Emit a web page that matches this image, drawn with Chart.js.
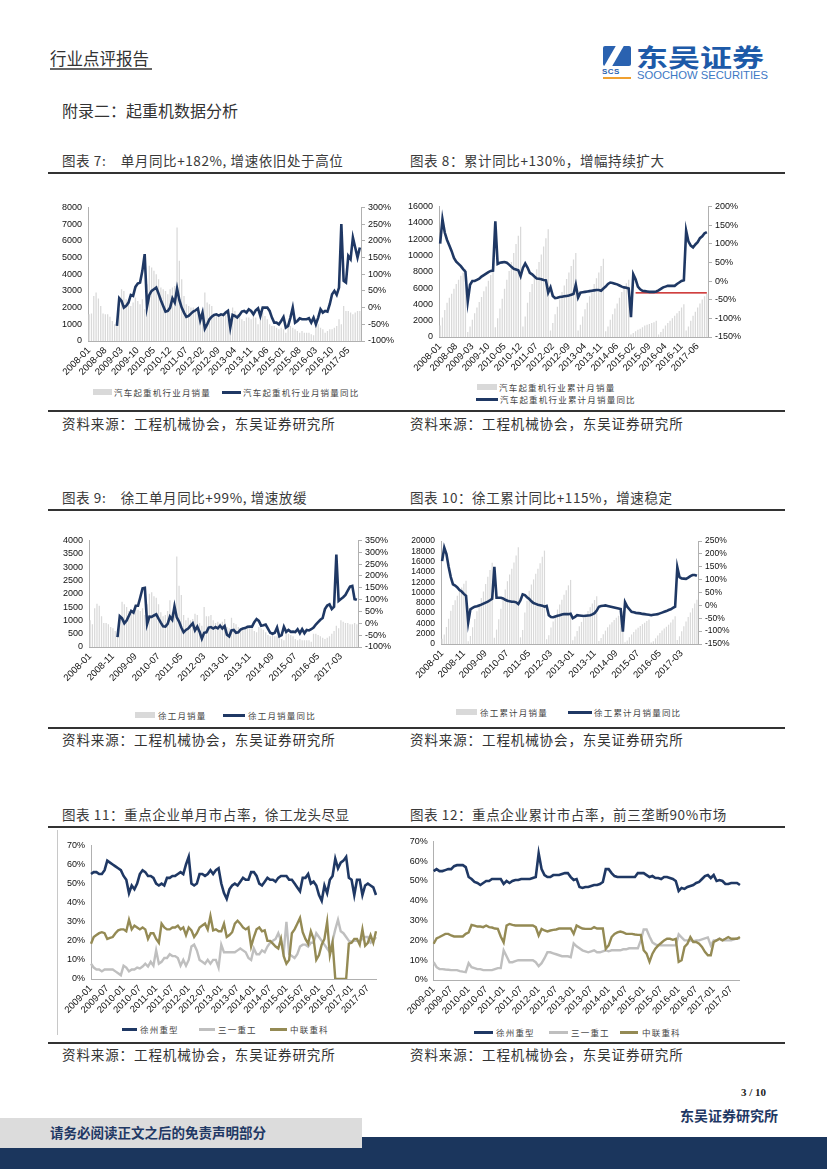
<!DOCTYPE html>
<html>
<head>
<meta charset="utf-8">
<script src="https://cdn.jsdelivr.net/npm/chart.js@4.4.1/dist/chart.umd.min.js"></script>
<style>
    body { margin: 0; width: 827px; height: 1169px; position: relative; overflow: hidden; background: #fff;
           font-family: "Noto Sans CJK SC", sans-serif; color: #333; }
    .a { position: absolute; white-space: nowrap; }
    .title { font-size: 13.5px; line-height: 16px; color: #3a3a3a; letter-spacing: 0.6px; }
    .rule { position: absolute; left: 48px; width: 737px; height: 2px; background: #333; }
    .src { font-size: 13.5px; line-height: 16px; color: #333; letter-spacing: 0.9px; }
    .lg { position: absolute; font-size: 8.5px; line-height: 10px; letter-spacing: 1.2px; color: #444; white-space: nowrap; }
    .sw { position: absolute; }
    canvas { position: absolute; }
</style>
</head>
<body>

<!-- header -->
<div class="a" style="left:50px;top:49px;font-size:16.5px;line-height:18px;color:#333;">行业点评报告</div>
<div class="a" style="left:50px;top:68px;width:102px;height:2px;background:#666;"></div>
<div class="a" style="left:603px;top:46px;width:28px;height:20px;background:#2a62b0;border-radius:2px;"></div>
<div class="a" style="left:610px;top:44px;width:8px;height:24px;background:#fff;transform:skewX(-30deg);"></div>
<div class="a" style="left:602px;top:67px;font:bold 8px/9px 'Liberation Sans',Arial;color:#2a62b0;letter-spacing:0.5px;">SCS</div>
<div class="a" style="left:603px;top:77px;width:28px;height:2px;background:#f0a030;"></div>
<div class="a" style="left:636px;top:42px;font-size:25px;line-height:28px;font-weight:bold;color:#1d5aa8;transform:scaleX(1.28);transform-origin:left top;">东吴证券</div>
<div class="a" style="left:637px;top:70px;font:10.5px/11px 'Liberation Sans',Arial;color:#3d78c4;transform:scaleX(1.07);transform-origin:left top;">SOOCHOW SECURITIES</div>

<div class="a" style="left:62px;top:101px;font-size:16px;line-height:18px;color:#333;">附录二：起重机数据分析</div>

<!-- row 1 -->
<div class="a title" style="left:62px;top:152px;">图表 7:&nbsp;&nbsp;&nbsp; 单月同比+182%, 增速依旧处于高位</div>
<div class="a title" style="left:410px;top:152px;">图表 8：累计同比+130%，增幅持续扩大</div>
<div class="rule" style="top:172px;"></div>
<canvas id="c7" width="345" height="183" style="left:50px;top:196px;"></canvas>
<canvas id="c8" width="343" height="180" style="left:405px;top:195px;"></canvas>
<div class="sw" style="left:93px;top:389px;width:19px;height:6px;background:#d9d9d9;"></div>
<div class="lg" style="left:114px;top:387px;">汽车起重机行业月销量</div>
<div class="sw" style="left:222px;top:391px;width:19px;height:3px;background:#1f3864;"></div>
<div class="lg" style="left:243px;top:387px;">汽车起重机行业月销量同比</div>
<div class="sw" style="left:477px;top:384px;width:20px;height:6px;background:#d9d9d9;"></div>
<div class="lg" style="left:499px;top:382px;">汽车起重机行业累计月销量</div>
<div class="sw" style="left:476px;top:398px;width:22px;height:3px;background:#1f3864;"></div>
<div class="lg" style="left:500px;top:394px;">汽车起重机行业累计月销量同比</div>
<div class="rule" style="top:410px;"></div>
<div class="a src" style="left:62px;top:415px;">资料来源：工程机械协会，东吴证券研究所</div>
<div class="a src" style="left:410px;top:415px;">资料来源：工程机械协会，东吴证券研究所</div>

<!-- row 2 -->
<div class="a title" style="left:62px;top:489px;">图表 9:&nbsp;&nbsp;&nbsp; 徐工单月同比+99%, 增速放缓</div>
<div class="a title" style="left:410px;top:489px;">图表 10：徐工累计同比+115%，增速稳定</div>
<div class="rule" style="top:509px;"></div>
<canvas id="c9" width="348" height="158" style="left:50px;top:529px;"></canvas>
<canvas id="c10" width="338" height="154" style="left:405px;top:530px;"></canvas>
<div class="sw" style="left:135px;top:712px;width:20px;height:6px;background:#d9d9d9;"></div>
<div class="lg" style="left:158px;top:710px;">徐工月销量</div>
<div class="sw" style="left:223px;top:714px;width:22px;height:3px;background:#1f3864;"></div>
<div class="lg" style="left:248px;top:710px;">徐工月销量同比</div>
<div class="sw" style="left:456px;top:709px;width:21px;height:6px;background:#d9d9d9;"></div>
<div class="lg" style="left:480px;top:707px;">徐工累计月销量</div>
<div class="sw" style="left:568px;top:711px;width:24px;height:3px;background:#1f3864;"></div>
<div class="lg" style="left:594px;top:707px;">徐工累计月销量同比</div>
<div class="rule" style="top:727px;"></div>
<div class="a src" style="left:62px;top:731px;">资料来源：工程机械协会，东吴证券研究所</div>
<div class="a src" style="left:410px;top:731px;">资料来源：工程机械协会，东吴证券研究所</div>

<!-- row 3 -->
<div class="a title" style="left:62px;top:806px;">图表 11：重点企业单月市占率，徐工龙头尽显</div>
<div class="a title" style="left:410px;top:806px;">图表 12：重点企业累计市占率，前三垄断90%市场</div>
<div class="rule" style="top:826px;"></div>
<div class="a" style="left:57px;top:830px;width:1px;height:205px;background:#c8c8c8;"></div>
<canvas id="c11" width="330" height="185" style="left:60px;top:834px;"></canvas>
<canvas id="c12" width="347" height="190" style="left:405px;top:830px;"></canvas>
<div class="sw" style="left:122px;top:1028px;width:15px;height:3px;background:#1f3864;"></div>
<div class="lg" style="left:140px;top:1024px;">徐州重型</div>
<div class="sw" style="left:199px;top:1028px;width:16px;height:3px;background:#bfbfbf;"></div>
<div class="lg" style="left:218px;top:1024px;">三一重工</div>
<div class="sw" style="left:270px;top:1028px;width:17px;height:3px;background:#948a54;"></div>
<div class="lg" style="left:290px;top:1024px;">中联重科</div>
<div class="sw" style="left:474px;top:1031px;width:19px;height:3px;background:#1f3864;"></div>
<div class="lg" style="left:496px;top:1027px;">徐州重型</div>
<div class="sw" style="left:549px;top:1031px;width:19px;height:3px;background:#bfbfbf;"></div>
<div class="lg" style="left:571px;top:1027px;">三一重工</div>
<div class="sw" style="left:620px;top:1031px;width:18px;height:3px;background:#948a54;"></div>
<div class="lg" style="left:642px;top:1027px;">中联重科</div>
<div class="rule" style="top:1042px;"></div>
<div class="a src" style="left:62px;top:1046px;">资料来源：工程机械协会，东吴证券研究所</div>
<div class="a src" style="left:410px;top:1046px;">资料来源：工程机械协会，东吴证券研究所</div>

<!-- footer -->
<div class="a" style="right:61px;top:1086px;font:bold 11px/13px 'Liberation Serif',serif;color:#222;">3 / 10</div>
<div class="a" style="left:0;top:1137px;width:827px;height:32px;background:#1b365d;"></div>
<div class="a" style="left:0;top:1118px;width:362px;height:30px;background:#dcdcdc;"></div>
<div class="a" style="left:50px;top:1124px;font-size:13.5px;line-height:16px;font-weight:bold;color:#1f3864;">请务必阅读正文之后的免责声明部分</div>
<div class="a" style="left:680px;top:1107px;font-size:14px;line-height:17px;font-weight:bold;color:#1f3864;">东吴证券研究所</div>

<script>
// === Chart 7: 汽车起重机 月销量 / 同比 (2008-01 .. 2017-10) ===
const c7Ticks = ['2008-01', '2008-08', '2009-03', '2009-10', '2010-05', '2010-12', '2011-07', '2012-02', '2012-09',
    '2013-04', '2013-11', '2014-06', '2015-01', '2015-08', '2016-03', '2016-10', '2017-05'];
const c7Sales = [
    1600, 1650, 2700, 2900, 2550, 2100, 1650, 1600, 1600, 1450, 1200, 1000,
    1100, 1900, 3100, 3000, 2500, 2300, 2100, 2300, 2600, 2400, 2200, 2500,
    1900, 3400, 4500, 4400, 4200, 4000, 3700, 3200, 3100, 3000, 2800, 3100,
    3200, 3300, 6800, 4800, 3700, 2700, 2200, 2100, 2000, 2000, 1900, 2000,
    1600, 1900, 2900, 2300, 2200, 2100, 1600, 1500, 1600, 1500, 1500, 1600,
    1300, 1100, 2000, 1800, 1600, 1500, 1300, 1200, 1400, 1400, 1300, 1500,
    1400, 1000, 1800, 1700, 1500, 1300, 1000, 900, 900, 800, 700, 800,
    700, 500, 1000, 900, 800, 700, 600, 500, 600, 500, 500, 500,
    400, 350, 1000, 1000, 800, 700, 500, 600, 700, 700, 800, 900,
    1300, 1000, 2100, 1800, 1800, 1700, 1600, 1700, 1800, 1800
];
const c7Yoy = [
    null, null, null, null, null, null, null, null, null, null, null, null,
    -55, 28, 20, 0, 5, 15, 38, 35, 62, 72, 75, 110,
    160, 3, 38, 50, 55, 60, 42, 22, 5, -12, -10, 0,
    28, 15, 57, 22, 0, -15, -28, -25, -18, -12, -8, -3,
    -38, -15, -63, -50, -35, -27, -22, -20, -24, -20, -22, -15,
    -10, -60, -22, -25, -30, -22, -12, -10, -15, -5, -10, -20,
    -8, -2, -25, 0, 0, 0, -10, -30, -45, -45, -50, -40,
    -28, -60, -55, -30, 0, -45, -40, -32, -35, -35, -35, -32,
    -45, -30, -50, -30, -5, -15, -10, -12, 10, 40, 50, 38,
    60, 250, 80, 75, 155, 145, 210, 180, 150, 180
];

// === Chart 8: 汽车起重机 累计销量 / 累计同比 (one month missing in 2014) ===
const c8Ticks = ['2008-01', '2008-08', '2009-03', '2009-10', '2010-05', '2010-12', '2011-07', '2012-02', '2012-09',
    '2013-04', '2013-11', '2014-06', '2015-02', '2015-09', '2016-04', '2016-11', '2017-06'];
const c8Sales = [
    1400, 2400, 3300, 4200, 4800, 5300, 5900, 6500, 7000, 7500, 7900, 8300,
    600, 1300, 2100, 2900, 3600, 4300, 4900, 5600, 6200, 6900, 7600, 8400,
    1200, 2300, 3500, 4700, 5900, 7000, 8100, 9200, 10300, 11400, 12400, 13500,
    1300, 2500, 4200, 5500, 6500, 7400, 8300, 9200, 10100, 11100, 12100, 13200,
    800, 1700, 2800, 3700, 4600, 5500, 6300, 7100, 7900, 8700, 9500, 10300,
    800, 1500, 2500, 3400, 4200, 5000, 5800, 6500, 7200, 7900, 8700, 9600,
    700, 1300, 2100, 2800, 3500, 4100, 4800, 5500, 6200, 6600, 7000,
    300, 500, 700, 900, 1000, 1200, 1400, 1500, 1600, 1700, 1800, 2000,
    300, 600, 1000, 1400, 1700, 2000, 2300, 2600, 2900, 3200, 3600, 4000,
    800, 1300, 2000, 2600, 3100, 3600, 4100, 4600, 5000, 5300
];
const c8Yoy = [
    100, 166, 130, 110, 95, 80, 62, 52, 46, 40, 32, 25,
    -55, -10, 0, 0, 3, 6, 12, 16, 20, 24, 27, 28,
    160, 46, 49, 50, 51, 49, 44, 38, 33, 31, 29, 13,
    35, 47, 36, 22, 18, 12, 7, 6, 5, 3, 2, -31,
    -17, -40, -46, -45, -43, -42, -41, -40, -39, -37, -35, -10,
    -44, -31, -30, -29, -28, -27, -26, -25, -24, -24, -26, -20,
    -15, -8, -4, -5, -7, -9, -12, -15, -17, -18, -20,
    -97, 18, 5, -15, -22, -26, -27, -28, -29, -29, -29, -28,
    -25, -21, -17, -15, -13, -13, -13, -13, -8, -4, 0, 2,
    135, 106, 95, 90, 98, 104, 115, 120, 128, 131
];
const c8RefLevel = -32;   // red marker line drawn on the chart
const c8RefFrom = 85;

// === Chart 9: 徐工 月销量 / 同比 ===
const c9Ticks = ['2008-01', '2008-11', '2009-09', '2010-07', '2011-05', '2012-03', '2013-01', '2013-11',
    '2014-09', '2015-07', '2016-05', '2017-03'];
const c9Sales = [
    1000, 850, 1450, 1620, 1550, 1150, 900, 900, 850, 750, 700, 600,
    550, 1000, 1700, 1600, 1500, 1350, 1250, 1250, 1450, 1400, 1350, 1450,
    1200, 1600, 2000, 2050, 1900, 1850, 1600, 1300, 1150, 1200, 1350, 1750,
    1300, 1400, 3400, 2300, 1950, 1200, 1000, 1100, 1000, 1050, 1250, 1200,
    900, 800, 1500, 1150, 1150, 1200, 1000, 900, 950, 900, 950, 1050,
    750, 700, 1100, 900, 850, 750, 700, 650, 750, 700, 700, 750,
    600, 550, 750, 700, 650, 550, 450, 400, 450, 400, 400, 400,
    300, 250, 550, 500, 450, 400, 300, 250, 300, 250, 250, 250,
    250, 200, 500, 500, 450, 400, 350, 300, 350, 400, 500, 600,
    800, 700, 1000, 950, 900, 900, 850, 850, 900, 850
];
const c9Yoy = [
    null, null, null, null, null, null, null, null, null, null, null, null,
    -58, 30, 21, 0, 12, 32, 52, 45, 74, 74, 110, 148,
    150, -3, 28, 27, 33, 38, 20, 3, -13, -14, -2, 28,
    15, 72, 25, 7, -18, -38, -28, -22, -11, 0, -30, -14,
    -35, -65, -40, -38, -18, -16, -22, -16, -21, -10, -22, -12,
    -48, -55, -30, -28, -40, -38, -26, -22, -20, -15, -14, -14,
    5, 18, 10, -10, -8, -5, -22, -40, -44, -40, -18, -55,
    -50, -15, -36, -28, -36, -35, -37, -25, -42, -25, -42, -28,
    -30, -25, -18, -5, 5, 15, 22, 60, 75, 80, 60, 70,
    290, 95, 103, 110, 120, 138, 155, 158, 102, 99
];

// === Chart 10: 徐工 累计销量 / 累计同比 ===
const c10Ticks = c9Ticks;
const c10Sales = [
    1000, 1850, 3300, 4900, 6450, 7600, 8500, 9400, 10250, 11000, 11700, 12300,
    550, 1550, 3250, 4850, 6350, 7700, 8950, 10200, 11650, 13050, 14400, 15800,
    1200, 2800, 4800, 6850, 8750, 10600, 12200, 13500, 14650, 15850, 17200, 18800,
    1300, 2700, 6100, 8400, 10350, 11550, 12550, 13650, 14650, 15700, 16950, 18150,
    900, 1700, 3200, 4350, 5500, 6700, 7700, 8600, 9550, 10450, 11400, 12450,
    750, 1450, 2550, 3450, 4300, 5050, 5750, 6400, 7150, 7850, 8550, 9300,
    600, 1150, 1900, 2600, 3250, 3800, 4250, 4650, 5100, 5500, 5900, 6300,
    350, 700, 1300, 1850, 2350, 2800, 3150, 3500, 3850, 4150, 4450, 4750,
    300, 550, 1100, 1650, 2150, 2600, 3000, 3350, 3750, 4200, 4750, 5400,
    800, 1500, 2500, 3450, 4350, 5250, 6100, 6950, 7850, 8600
];
const c10Yoy = [
    172, 225, 200, 150, 110, 82, 77, 70, 60, 54, 45, 37,
    -66, -15, -10, -5, -3, 0, 3, 7, 11, 15, 20, 26,
    150, 30, 30, 30, 27, 22, 18, 16, 14, 14, 12, 5,
    20, 43, 40, 32, 25, 16, 9, 6, 3, 1, -1, -5,
    -2, -38, -45, -46, -43, -40, -38, -35, -34, -34, -34, -32,
    -50, -45, -38, -39, -40, -41, -40, -39, -38, -35, -30, -20,
    -5, -2, -1, 0, -2, -4, -6, -8, -10, -12, -14, -102,
    12, -5, -15, -25, -27, -29, -30, -31, -33, -34, -35, -36,
    -38, -36, -35, -34, -31, -28, -25, -22, -18, -15, -10, -5,
    148, 110, 105, 104, 103, 108, 114, 118, 118, 115
];

// === Chart 11: 单月市占率 (2009-01 .. 2017-10) ===
const c11Ticks = ['2009-01', '2009-07', '2010-01', '2010-07', '2011-01', '2011-07', '2012-01', '2012-07', '2013-01',
    '2013-07', '2014-01', '2014-07', '2015-01', '2015-07', '2016-01', '2016-07', '2017-01', '2017-07'];
const c11Xcmg = [
    55, 56, 56, 55, 55, 57, 62, 61, 60, 59, 58, 57,
    54, 52, 45, 49, 47, 50, 55, 57, 56, 54, 54, 53,
    50, 49, 50, 49, 53, 53, 54, 54, 55, 56, 55, 60,
    64, 50, 49, 50, 55, 55, 54, 55, 57, 55, 57, 58,
    50, 45, 42, 47, 49, 50, 49, 51, 53, 52, 52, 56,
    56, 54, 50, 49, 51, 53, 52, 52, 51, 53, 54, 54,
    54, 52, 52, 50, 48, 46, 53, 53, 55, 50, 51, 49,
    44, 41, 49, 45, 52, 54, 63, 58, 61, 62, 64, 53,
    52, 44, 52, 52, 44, 49, 50, 49, 48, 44
];
const c11Sany = [
    8, 6, 5, 5, 4, 5, 5, 5, 5, 4, 3, 2,
    7, 6, 4, 5, 5, 6, 5.5, 6.5, 8, 6.5, 9, 7,
    15, 8, 9, 11, 11, 13, 12, 12, 11, 7, 10, 7,
    10, 17, 18, 15, 10, 9, 8, 10, 8, 10, 10, 6,
    18, 14, 14, 14, 14, 14, 15, 16, 15, 14, 11, 10,
    16, 13, 13, 15, 14, 17, 19, 20, 21, 24, 20, 14,
    30, 13, 12, 11, 13, 17, 18, 18, 17, 19, 19, 24,
    22, 20, 18, 16, 14, 20, 26, 31, 25, 24, 22, 20,
    19.5, 20, 20, 20, 21, 22, 22, 19, 20, 22
];
const c11Zoomlion = [
    18.5, 22, 23, 24, 24.5, 24, 21, 21.5, 22, 24, 25.5, 26,
    26, 25, 31, 26, 28, 27, 26, 27, 26, 21, 24, 24,
    21, 19, 29, 27, 26, 26, 27, 27, 28, 26, 27, 23,
    27, 25.5, 22, 24, 27, 28, 29, 26, 33, 25.5, 26, 25,
    25, 29, 22, 23, 24.5, 29, 30.5, 29, 27, 26, 27, 17,
    22, 26, 27, 25, 25.5, 20, 20, 18.5, 17, 16, 21, 12,
    8, 10, 24, 26, 29, 32, 24.5, 21, 18.5, 25, 21, 10,
    12.5, 18, 21, 30, 12.5, 19, 0, 0, 0, 0, 0, 18.5,
    19, 21, 21, 18, 26, 17.5, 19, 23, 19, 25
];

// === Chart 12: 累计市占率 ===
const c12Ticks = c11Ticks;
const c12Xcmg = [
    55, 56, 55, 55, 55.5, 56, 56, 57.5, 58, 58, 58, 57,
    52, 51, 49.5, 49, 48, 49, 50, 50, 51, 51, 51, 51,
    48.5, 50, 49, 50, 50.5, 50.5, 51, 51, 51, 51, 51.5, 52,
    64, 56, 53, 52, 52, 53, 53, 53, 53.5, 54, 54, 52,
    50.5, 51, 47, 46.5, 47, 47, 47.5, 48, 48, 48.5, 49.5, 56,
    56, 54, 52.5, 52, 52, 52, 52, 52, 52, 52, 54, 54,
    54, 53, 52, 52.5, 51.5, 51.5, 51, 52, 52, 51.5, 51, 50,
    45, 46.5, 46, 47, 47.5, 48, 49, 49.5, 51, 52.5, 53, 51.5,
    53, 50, 50.5, 50, 48.5, 48.5, 49, 49, 49, 48
];
const c12Sany = [
    9, 6.5, 5.5, 5.5, 5.3, 5.2, 5, 5, 5, 4.5, 4.2, 4,
    8.5, 6.5, 6, 5.5, 5.5, 5, 5, 5, 5, 5.5, 6, 6,
    15, 12, 9, 9, 9.5, 10, 10, 10, 10, 10, 10, 9,
    7, 8.5, 11, 14, 14, 13.5, 13, 12.5, 12, 12, 12, 11.5,
    18.5, 17, 16, 15, 14.5, 14, 14.5, 15, 14, 14, 14.5, 15,
    14.5, 15, 15, 15, 15, 15.5, 15.5, 16, 16, 16, 16, 20,
    25.5, 25.5, 22, 19, 18, 17.5, 17.5, 17.5, 17.5, 17.5, 17.5, 17.5,
    23, 21.5, 20, 20, 20, 19.5, 20, 20, 20.5, 21, 21.5, 17.5,
    20, 20, 21, 20, 20, 20, 20, 20.5, 21, 21
];
const c12Zoomlion = [
    18.3, 21, 21.7, 22.5, 23.3, 23.3, 22.5, 22, 22, 22, 22, 23.3,
    24, 27.8, 27.5, 27, 27, 26.7, 27.5, 26.7, 26.5, 26, 25.8, 22,
    19, 27.5, 28.3, 27.8, 27.5, 27.5, 27.5, 27.5, 27.5, 27.5, 27.5, 26.7,
    22.5, 25.8, 25, 24.5, 25, 25.3, 25.5, 26, 26, 26, 26, 26,
    23.3, 27.5, 26.7, 26, 25.8, 25.8, 25.8, 26.7, 26, 26, 26, 15.8,
    17.5, 21.7, 23.3, 24, 24.5, 24, 23.3, 23.3, 23.3, 23, 22.8, 22.8,
    15, 13.3, 9.2, 13.3, 15.8, 17.5, 18.7, 20, 20.8, 20.8, 20.3, 20.8,
    9.2, 10, 16.7, 18.3, 21.7, 19.2, 19.2, 18.3, 16.7, 14.2, 12.5, 12.5,
    19.2, 20, 20.8, 20, 20.8, 21.7, 20.8, 20.8, 20.8, 21.7
];

// === Styles ===
const NAVY = '#1f3864';
const BAR_GREY = '#d9d9d9';
const LINE_GREY = '#bfbfbf';
const OLIVE = '#948a54';
const AXIS = '#b0b0b0';
const FONT_FAMILY = '"Liberation Sans", Arial, sans-serif';
const X_FONT = { family: FONT_FAMILY, size: 9.5 };
const TICK_COLOR = '#111';

// === Helpers ===
function xTickCallback(labels, step) {
    return function (value, index) {
        return index % step === 0 ? labels[index / step] : '';
    };
}

function xScale(ticks, step, height, offset) {
    return {
        offset: offset,
        grid: { display: false, drawTicks: false, tickLength: 0 },
        border: { display: true, color: AXIS },
        ticks: {
            autoSkip: false, minRotation: 45, maxRotation: 45, padding: 4,
            color: TICK_COLOR, font: X_FONT, callback: xTickCallback(ticks, step)
        },
        afterFit: (s) => { s.height = height; }
    };
}

function leftScale(min, max, step, width, suffix, fontSize) {
    return {
        position: 'left', min: min, max: max,
        grid: { display: false, drawTicks: false, tickLength: 0 },
        border: { display: true, color: AXIS },
        ticks: {
            stepSize: step, autoSkip: false, padding: 6, color: TICK_COLOR,
            font: { family: FONT_FAMILY, size: fontSize },
            callback: (v) => String(v) + suffix
        },
        afterFit: (s) => { s.width = width; }
    };
}

// === Builders ===
function buildDualChart(id, o) {
    const fontSize = o.fontSize || 9;
    const datasets = [
        {
            type: 'line', data: o.yoy, yAxisID: 'y1', borderColor: NAVY, borderWidth: 2.6,
            pointRadius: 0, tension: 0, order: 0
        },
        {
            type: 'bar', data: o.sales, yAxisID: 'y', backgroundColor: BAR_GREY,
            barPercentage: 0.55, categoryPercentage: 1, order: 2
        }
    ];
    if (o.extra) datasets.push(o.extra);

    return new Chart(document.getElementById(id), {
        data: { labels: o.sales.map((_, i) => i), datasets: datasets },
        options: {
            responsive: false,
            animation: false,
            layout: { padding: { top: o.padTop, left: 0, right: 0, bottom: 0 } },
            plugins: { legend: { display: false }, tooltip: { enabled: false } },
            scales: {
                x: xScale(o.ticks, o.step, o.xHeight, true),
                y: leftScale(o.leftMin, o.leftMax, o.leftStep, o.leftW, '', fontSize),
                y1: {
                    position: 'right', min: o.rightMin, max: o.rightMax,
                    grid: { display: true, drawOnChartArea: false, tickLength: 4, color: AXIS },
                    border: { display: true, color: AXIS },
                    ticks: {
                        stepSize: 50, autoSkip: false, padding: 3, color: TICK_COLOR,
                        font: { family: FONT_FAMILY, size: fontSize },
                        callback: (v) => v + '%'
                    },
                    afterFit: (s) => { s.width = o.rightW; }
                }
            }
        }
    });
}

function buildShareChart(id, o) {
    const line = (data, color, width, order) => ({
        data: data, borderColor: color, borderWidth: width, pointRadius: 0, tension: 0, order: order
    });
    return new Chart(document.getElementById(id), {
        type: 'line',
        data: {
            labels: o.xcmg.map((_, i) => i),
            datasets: [
                line(o.xcmg, NAVY, 2.6, 0),
                line(o.zoomlion, OLIVE, 2.4, 1),
                line(o.sany, LINE_GREY, 2.4, 2)
            ]
        },
        options: {
            responsive: false,
            animation: false,
            layout: { padding: { top: o.padTop, left: 0, right: o.padRight, bottom: 0 } },
            plugins: { legend: { display: false }, tooltip: { enabled: false } },
            scales: {
                x: xScale(o.ticks, 6, o.xHeight, false),
                y: leftScale(0, 70, 10, o.leftW, '%', 9)
            }
        }
    });
}

// === INIT ===
buildDualChart('c7', {
    sales: c7Sales, yoy: c7Yoy, ticks: c7Ticks, step: 7,
    leftMin: 0, leftMax: 8000, leftStep: 1000, rightMin: -100, rightMax: 300,
    leftW: 38, rightW: 34, padTop: 10, xHeight: 38
});

buildDualChart('c8', {
    sales: c8Sales, yoy: c8Yoy, ticks: c8Ticks, step: 7,
    leftMin: 0, leftMax: 16000, leftStep: 2000, rightMin: -150, rightMax: 200,
    leftW: 34, rightW: 40, padTop: 10, xHeight: 38,
    extra: {
        type: 'line', yAxisID: 'y1', borderColor: '#c00000', borderWidth: 1.2, pointRadius: 0, order: 1,
        data: c8Yoy.map((_, i) => (i >= c8RefFrom ? c8RefLevel : null))
    }
});

buildDualChart('c9', {
    sales: c9Sales, yoy: c9Yoy, ticks: c9Ticks, step: 10,
    leftMin: 0, leftMax: 4000, leftStep: 500, rightMin: -100, rightMax: 350,
    leftW: 39, rightW: 40, padTop: 10, xHeight: 40
});

buildDualChart('c10', {
    sales: c10Sales, yoy: c10Yoy, ticks: c10Ticks, step: 10, fontSize: 8.5,
    leftMin: 0, leftMax: 20000, leftStep: 2000, rightMin: -150, rightMax: 250,
    leftW: 36, rightW: 45, padTop: 10, xHeight: 40
});

buildShareChart('c11', {
    xcmg: c11Xcmg, sany: c11Sany, zoomlion: c11Zoomlion, ticks: c11Ticks,
    leftW: 31, padRight: 14, padTop: 10, xHeight: 40
});

buildShareChart('c12', {
    xcmg: c12Xcmg, sany: c12Sany, zoomlion: c12Zoomlion, ticks: c12Ticks,
    leftW: 27, padRight: 12, padTop: 10, xHeight: 40
});
</script>
</body>
</html>
